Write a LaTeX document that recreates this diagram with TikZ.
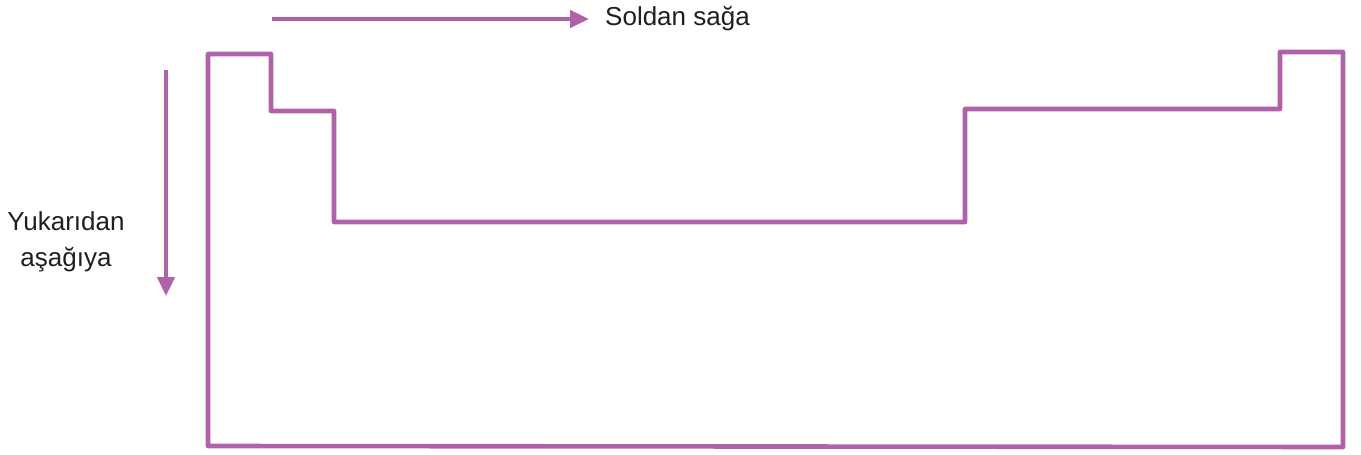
\documentclass[tikz,border=0pt]{standalone}
\usepackage{fontspec}
\setmainfont{Liberation Sans}
\usetikzlibrary{arrows.meta}
\definecolor{pur}{RGB}{176,98,168}
\begin{document}
\begin{tikzpicture}[x=1pt,y=-1pt,
  outline/.style={draw=pur,line width=4.6pt,line join=round,line cap=round},
  dirarrow/.style={draw=pur,line width=4.6pt,-{Triangle[length=19pt,width=17pt]}},
  lbl/.style={font=\fontsize{26}{30}\selectfont,text=black!88,inner sep=0pt}]
\useasboundingbox (0,0) rectangle (1361,455);
% outline of the table
\draw[outline] (208,54) -- (271,54) -- (271,111) -- (334,111) -- (334,222)
  -- (965,222) -- (965,109) -- (1280,109) -- (1280,52) -- (1343,52)
  -- (1343,447) -- (208,446) -- cycle;
% arrows
\coordinate (h1) at (272,19);
\coordinate (h2) at (589,19);
\coordinate (v1) at (166,70);
\coordinate (v2) at (166,296);
\draw[dirarrow] (h1) -- (h2);
\draw[dirarrow] (v1) -- (v2);
% labels
\node[lbl,anchor=base west] (lr) at (605,25) {Soldan sağa};
\node[lbl,anchor=base] (tb1) at (66,230) {Yukarıdan};
\node[lbl,anchor=base] (tb2) at (66,266) {aşağıya};
\end{tikzpicture}
\end{document}
